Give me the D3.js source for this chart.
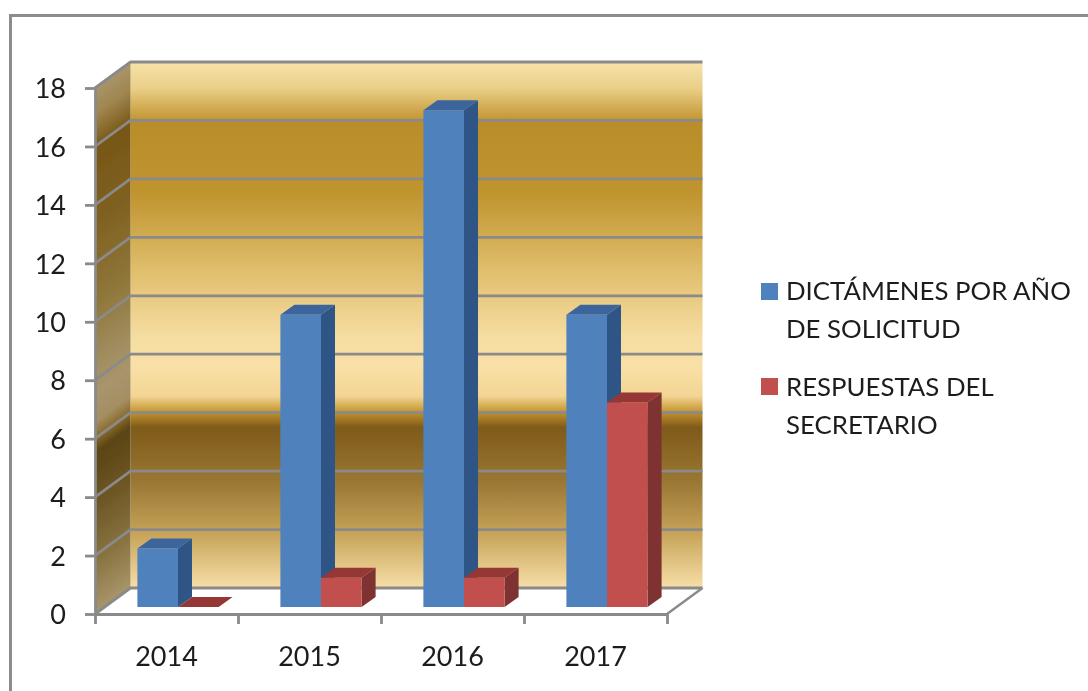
<!DOCTYPE html>
<html>
<head>
<meta charset="utf-8">
<script src="https://cdn.jsdelivr.net/npm/d3@7"></script>
<style>
html, body { margin: 0; padding: 0; background: #fff; overflow: hidden; }
text { font-family: Lato, "Open Sans", sans-serif; fill: #1c1c1c; }
</style>
</head>
<body>
<svg id="chart" width="1088" height="691"></svg>
<script>
const categories = ["2014", "2015", "2016", "2017"];
const dictamenes = [2, 10, 17, 10];
const respuestas = [0, 1, 1, 7];
const yTicks = [0, 2, 4, 6, 8, 10, 12, 14, 16, 18];
const legendLabels = [["DICTÁMENES POR AÑO", "DE SOLICITUD"], ["RESPUESTAS DEL", "SECRETARIO"]];

// offset, back wall colour, side wall colour
const wallStops = [
	[0, "#f7e2a8", "#a8956a"],
	[0.05, "#e9cf88", "#a08650"],
	[0.105, "#c79a38", "#7f6020"],
	[0.115, "#b98d2a", "#775716"],
	[0.25, "#c0942f", "#7f6020"],
	[0.4, "#e0bf6e", "#8e7538"],
	[0.52, "#f5dca0", "#a08c5e"],
	[0.58, "#f9e0a6", "#a8956c"],
	[0.635, "#f3d594", "#a48f62"],
	[0.665, "#c4952f", "#8a6c2c"],
	[0.695, "#7f5a1a", "#5a4412"],
	[0.8, "#9a7834", "#6f5826"],
	[0.9, "#c8a55a", "#887340"],
	[1, "#f8dfa8", "#a8956a"]
];

const svg = d3.select("#chart");

const defs = svg.append("defs");
// the picture is a little soft
defs.append("filter")
	.attr("id", "soft")
	.attr("x", 0).attr("y", 0).attr("width", 1).attr("height", 1)
	.append("feGaussianBlur")
	.attr("stdDeviation", 0.5);

const root = svg.append("g").attr("filter", "url(#soft)");

root.append("rect").attr("width", 1088).attr("height", 691).attr("fill", "#fff");

// frame
root.append("path")
	.attr("d", "M10.5,691V15.5H1088")
	.attr("fill", "none")
	.attr("stroke", "#8c8c8c")
	.attr("stroke-width", 3);

const front = { left: 95, right: 667, bottom: 614, top: 88 };
const depth = { x: 35.5, y: -26 };
const barShift = { x: 11.5, y: -7 };
const barDepth = { x: 14, y: -10 };

const y = d3.scaleLinear().domain([0, 18]).range([front.bottom, front.top]);
const x0 = d3.scaleBand().domain(categories).range([front.left, front.right]).paddingInner(0.432).paddingOuter(0.216);
const x1 = d3.scaleBand().domain([0, 1]).range([0, x0.bandwidth()]);
const xEdges = d3.scaleLinear().domain([0, 4]).range([front.left, front.right]);

const backTop = y(18) + depth.y;
const backBottom = y(0) + depth.y;
const backLeft = front.left + depth.x;
const backRight = front.right + depth.x;

const backGrad = defs.append("linearGradient")
	.attr("id", "backWall")
	.attr("gradientUnits", "userSpaceOnUse")
	.attr("x1", 0).attr("y1", backTop)
	.attr("x2", 0).attr("y2", backBottom);
backGrad.selectAll("stop").data(wallStops).enter().append("stop")
	.attr("offset", d => d[0])
	.attr("stop-color", d => d[1]);

// skewed so the colour bands follow the gridlines on the side wall
const h = backBottom - backTop;
const t = (h * depth.x) / (depth.x * depth.x + depth.y * depth.y);
const sideGrad = defs.append("linearGradient")
	.attr("id", "sideWall")
	.attr("gradientUnits", "userSpaceOnUse")
	.attr("x1", backLeft).attr("y1", backTop)
	.attr("x2", backLeft - depth.y * t).attr("y2", backTop + depth.x * t);
sideGrad.selectAll("stop").data(wallStops).enter().append("stop")
	.attr("offset", d => d[0])
	.attr("stop-color", d => d[2]);

// walls
root.append("rect")
	.attr("x", backLeft).attr("y", backTop)
	.attr("width", backRight - backLeft).attr("height", h)
	.attr("fill", "url(#backWall)");

root.append("path")
	.attr("d", `M${front.left},${y(0)}L${front.left},${y(18)}L${backLeft},${backTop}L${backLeft},${backBottom}Z`)
	.attr("fill", "url(#sideWall)");

// gridlines, wall and side
root.append("g").selectAll("path")
	.data(yTicks).enter().append("path")
	.attr("d", d => `M${front.left},${y(d)}L${backLeft},${y(d) + depth.y}L${backRight},${y(d) + depth.y}`)
	.attr("fill", "none")
	.attr("stroke", "#8a8a8a")
	.attr("stroke-width", 2.8);

// floor edge
root.append("path")
	.attr("d", `M${front.right},${y(0)}L${backRight},${backBottom}`)
	.attr("fill", "none")
	.attr("stroke", "#8a8a8a")
	.attr("stroke-width", 2.4);

// axes
const yAxis = root.append("g")
	.attr("transform", `translate(${front.left},0)`)
	.call(d3.axisLeft(y).tickValues(yTicks).tickSize(10).tickPadding(19).tickSizeOuter(0));
const xLabels = root.append("g")
	.attr("transform", `translate(0,${front.bottom})`)
	.call(d3.axisBottom(x0).tickSize(0).tickPadding(33));
const xTicks = root.append("g")
	.attr("transform", `translate(0,${front.bottom})`)
	.call(d3.axisBottom(xEdges).ticks(4).tickSize(10).tickSizeOuter(0).tickFormat(""));

xLabels.select(".domain").remove();
[yAxis, xTicks].forEach(a => {
	a.selectAll(".domain, line").attr("stroke", "#8a8a8a").attr("stroke-width", 2.8);
});
yAxis.selectAll("text").attr("font-size", 27).attr("dy", "0.36em");
xLabels.selectAll("text").attr("font-size", 27).attr("dy", "0.71em");
root.selectAll("g").attr("font-family", null);

// bars
const series = [
	{ values: dictamenes, front: "#4f81bd", top: "#3b659c", side: "#2f5486" },
	{ values: respuestas, front: "#c0504d", top: "#953735", side: "#7f3230" }
];

function barFaces(cat, val, i) {
	const xa = x0(cat) + x1(i) + barShift.x;
	const xb = xa + x1.bandwidth();
	const yb = y(0) + barShift.y;
	const yt = y(val) + barShift.y;
	return {
		front: `M${xa},${yb}L${xa},${yt}L${xb},${yt}L${xb},${yb}Z`,
		top: `M${xa},${yt}L${xa + barDepth.x},${yt + barDepth.y}L${xb + barDepth.x},${yt + barDepth.y}L${xb},${yt}Z`,
		side: `M${xb},${yb}L${xb},${yt}L${xb + barDepth.x},${yt + barDepth.y}L${xb + barDepth.x},${yb + barDepth.y}Z`
	};
}

const barsLayer = root.append("g");
categories.forEach((cat, c) => {
	series.forEach((s, i) => {
		const faces = barFaces(cat, s.values[c], i);
		const val = s.values[c];
		if (val > 0) barsLayer.append("path").attr("d", faces.side).attr("fill", s.side);
		barsLayer.append("path").attr("d", faces.top).attr("fill", s.top);
		if (val > 0) barsLayer.append("path").attr("d", faces.front).attr("fill", s.front);
	});
});

// legend
const legendRows = [
	{ swatch: 283, first: 300 },
	{ swatch: 378, first: 396 }
];
const legend = root.append("g");
legendLabels.forEach((lines, i) => {
	legend.append("rect")
		.attr("x", 761).attr("y", legendRows[i].swatch)
		.attr("width", 17).attr("height", 17)
		.attr("fill", series[i].front);
	lines.forEach((line, j) => {
		legend.append("text")
			.attr("x", 786)
			.attr("y", legendRows[i].first + j * 38)
			.attr("font-size", 25.8)
			.text(line);
	});
});
</script>
</body>
</html>
